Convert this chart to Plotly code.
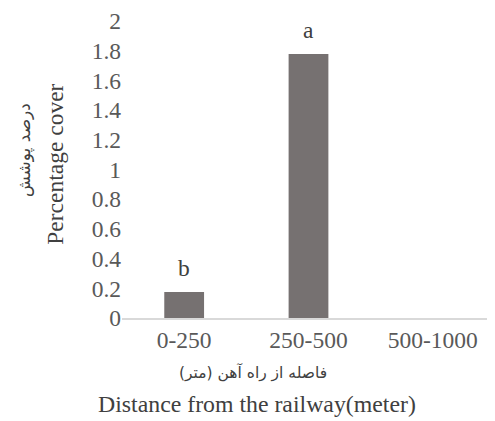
import plotly.graph_objects as go

categories = ["0-250", "250-500", "500-1000"]
values = [0.175, 1.778, 0.0]
letters = ["b", "a", ""]
y_ticks = [0, 0.2, 0.4, 0.6, 0.8, 1, 1.2, 1.4, 1.6, 1.8, 2]
y_tick_text = ["0", "0.2", "0.4", "0.6", "0.8", "1", "1.2", "1.4", "1.6", "1.8", "2"]

font_fam = "Liberation Serif"
grey = "#595959"
FS = 23.5

fig = go.Figure()
fig.add_trace(go.Bar(
    x=categories, y=values, marker_color="#767171", width=0.32,
    marker_line_width=0, showlegend=False,
))

for c, v, t in zip(categories, values, letters):
    if t:
        fig.add_annotation(x=c, y=v, text=t, showarrow=False, yshift=24,
                           font=dict(family=font_fam, size=FS, color="#404040"))

# plot area: x 122..495 (373 px), y 21..318 (297 px) in the page
common = dict(xref="paper", yref="paper", showarrow=False, xanchor="center", yanchor="middle")
fig.add_annotation(x=0.351, y=-0.185, text="فاصله از راه آهن (متر)",
                   font=dict(family="DejaVu Sans", size=15.5, color="#404040"), **common)
fig.add_annotation(x=0.362, y=-0.29, text="Distance from the railway(meter)",
                   font=dict(family=font_fam, size=23.8, color="#404040"), **common)
fig.add_annotation(x=-0.18, y=0.519, text="Percentage cover", textangle=-90,
                   font=dict(family=font_fam, size=FS, color="#404040"), **common)
fig.add_annotation(x=-0.263, y=0.565, text="درصد پوشش", textangle=-90,
                   font=dict(family="DejaVu Sans", size=17, color="#404040"), **common)

fig.update_layout(
    width=487, height=413,
    margin=dict(l=114, r=0, t=13, b=103),
    paper_bgcolor="white", plot_bgcolor="white",
    font=dict(family=font_fam, size=FS, color=grey),
    xaxis=dict(showgrid=False, showline=True, linecolor="#D9D9D9", linewidth=1.5,
               ticks="", tickfont=dict(family=font_fam, size=FS, color=grey)),
    yaxis=dict(range=[0, 2], showgrid=False, showline=False, zeroline=False,
               tickvals=y_ticks, ticktext=y_tick_text, ticks="", ticklen=0,
               tickfont=dict(family=font_fam, size=FS, color=grey)),
    bargap=0.68,
)

fig.write_html("out.html")
